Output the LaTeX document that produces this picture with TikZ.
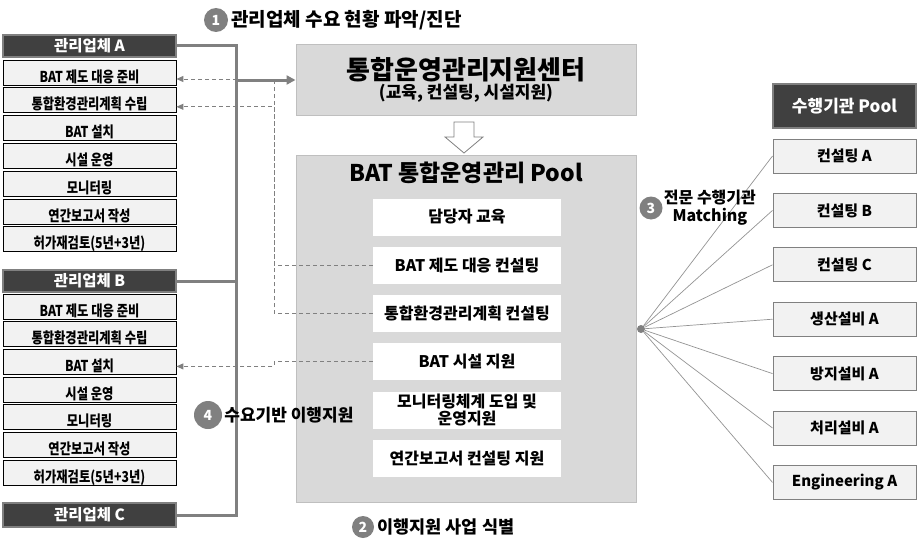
\documentclass[tikz,border=0pt]{standalone}
\usepackage{fontspec}
\setmainfont{Noto Sans CJK KR}
\newfontfamily\narrowkr{Noto Sans CJK KR}[FakeStretch=0.82]
\usetikzlibrary{arrows.meta,positioning}
\definecolor{headgray}{HTML}{404040}
\definecolor{linegray}{HTML}{808080}
\definecolor{boxgray}{HTML}{D9D9D9}
\definecolor{itemgray}{HTML}{F2F2F2}
\definecolor{rimgray}{HTML}{BFBFBF}
\tikzset{
  firmhead/.style={draw=linegray, line width=1.5pt, fill=headgray, text=white,
    minimum width=173pt, minimum height=22pt, inner sep=0pt,
    font=\fontsize{15.5}{17}\selectfont\bfseries},
  taskbox/.style={draw=black, line width=0.8pt, fill=itemgray,
    minimum width=173pt, minimum height=25pt, inner sep=0pt,
    text height=19pt, text depth=0pt,
    font=\narrowkr\fontsize{15}{16}\selectfont\bfseries},
  centerbox/.style={draw=rimgray, line width=1pt, fill=boxgray, inner sep=0pt},
  svcbox/.style={fill=white, minimum width=188pt, minimum height=37pt, inner sep=0pt,
    align=center, font=\fontsize{16}{17}\selectfont\bfseries},
  poolhead/.style={draw=linegray, line width=1.5pt, fill=headgray, text=white,
    minimum width=143pt, minimum height=44pt, inner sep=0pt,
    font=\fontsize{17}{19}\selectfont\bfseries},
  orgbox/.style={draw=linegray, line width=1pt, fill=itemgray,
    minimum width=143pt, minimum height=34pt, inner sep=0pt,
    font=\fontsize{15}{17}\selectfont\bfseries},
  numdot/.style={circle, fill=linegray, text=white, minimum size=24pt, inner sep=0pt,
    font=\fontsize{14}{16}\selectfont\bfseries},
  steplabel/.style={inner sep=1pt, font=\fontsize{17}{19}\selectfont\bfseries},
  trunk/.style={draw=linegray, line width=3pt, line join=miter},
  feed/.style={draw=linegray, line width=1pt, dash pattern=on 4pt off 3pt,
    -{Triangle[length=7pt,width=6pt]}},
  spoke/.style={draw=linegray!85, line width=0.7pt},
  hub/.style={circle, fill=linegray, minimum size=8pt, inner sep=0pt}
}
\begin{document}
\begin{tikzpicture}[x=1pt,y=-1pt]
\useasboundingbox (0,0) rectangle (918,543);

% managed firms (left column)
\node[firmhead] (hA) at (89.5,46) {관리업체 A};
\foreach \t [count=\i] in {BAT 제도 대응 준비, 통합환경관리계획 수립, BAT 설치, 시설 운영, 모니터링, 연간보고서 작성, 허가재검토(5년+3년)}
  \node[taskbox] (a\i) at (89.5,{72.5+27.8*(\i-1)}) {\t};
\node[firmhead] (hB) at (89.5,281) {관리업체 B};
\foreach \t [count=\i] in {BAT 제도 대응 준비, 통합환경관리계획 수립, BAT 설치, 시설 운영, 모니터링, 연간보고서 작성, 허가재검토(5년+3년)}
  \node[taskbox] (b\i) at (89.5,{306.5+27.7*(\i-1)}) {\t};
\node[firmhead, minimum height=24pt] (hC) at (89.5,515) {관리업체 C};

% support center and pool
\node[centerbox, minimum width=340pt, minimum height=70pt, align=center,
  font=\fontsize{17}{20}\selectfont\bfseries] (ctr) at (466,80)
  {{\fontsize{26}{28}\selectfont 통합운영관리지원센터}\\[-1pt](교육, 컨설팅, 시설지원)};
\draw[linegray, fill=white, line width=0.8pt] (454,122) -- (474,122) -- (474,137)
  -- (483,137) -- (464,153) -- (445,137) -- (454,137) -- cycle;
\node[centerbox, minimum width=340pt, minimum height=347pt] (pool) at (466,328.5) {};
\node[font=\fontsize{23}{26}\selectfont\bfseries] (pooltitle) at (466,173) {BAT 통합운영관리 Pool};
\foreach \t [count=\i] in {담당자 교육, BAT 제도 대응 컨설팅, 통합환경관리계획 컨설팅, BAT 시설 지원, {모니터링체계 도입 및\\운영지원}, 연간보고서 컨설팅 지원}
  \node[svcbox] (p\i) at (467,{217+48.3*(\i-1)}) {\t};

% executing agencies (right column)
\node[poolhead] (orgs) at (844.5,106) {수행기관 Pool};
\foreach \t [count=\i] in {컨설팅 A, 컨설팅 B, 컨설팅 C, 생산설비 A, 방지설비 A, 처리설비 A, Engineering A}
  \node[orgbox] (r\i) at (844.5,{156+54.4*(\i-1)}) {\t};
\node[hub] (hub) at (641,329) {};
\foreach \i in {1,...,7}
  \draw[spoke] (hub) -- (r\i.west);

% trunk from firms to center
\coordinate (tA) at (236,46);
\draw[trunk] (hA.east) -- (tA) -- (tA |- hC.east) -- (hC.east);
\draw[trunk] (hB.east) -- (tA |- hB.east);
\draw[trunk, -{Triangle[length=9pt,width=9pt]}] (tA |- ctr.west) -- (ctr.west);

% dashed feedback to tasks
\coordinate (dx) at (274,0);
\coordinate (a1in) at ([yshift=-6.5pt]a1.east);
\coordinate (a2in) at ([yshift=-6.5pt]a2.east);
\coordinate (b3in) at ([yshift=-4.5pt]b3.east);
\draw[feed] (p2.west) -- (p2.west -| dx) |- (a1in);
\draw[feed] (p3.west) -- (p3.west -| dx) |- (a2in);
\draw[feed] (p4.west) -- (p4.west -| dx) |- (b3in);

% step markers
\node[numdot] (n1) at (216,20) {1};
\node[steplabel, font=\fontsize{19}{21}\selectfont\bfseries, right=2pt of n1] (s1) {관리업체 수요 현황 파악/진단};
\node[numdot, minimum size=22pt] (n2) at (363,527) {2};
\node[steplabel, font=\fontsize{17.5}{19}\selectfont\bfseries, right=2pt of n2] (s2) {이행지원 사업 식별};
\node[numdot, minimum size=23pt] (n3) at (651,208) {3};
\node[steplabel, align=center, font=\fontsize{16}{18}\selectfont\bfseries, right=0pt of n3] (s3) {전문 수행기관\\Matching};
\node[numdot, minimum size=28pt] (n4) at (208,415) {4};
\node[steplabel, right=1pt of n4] (s4) {수요기반 이행지원};
\end{tikzpicture}
\end{document}
